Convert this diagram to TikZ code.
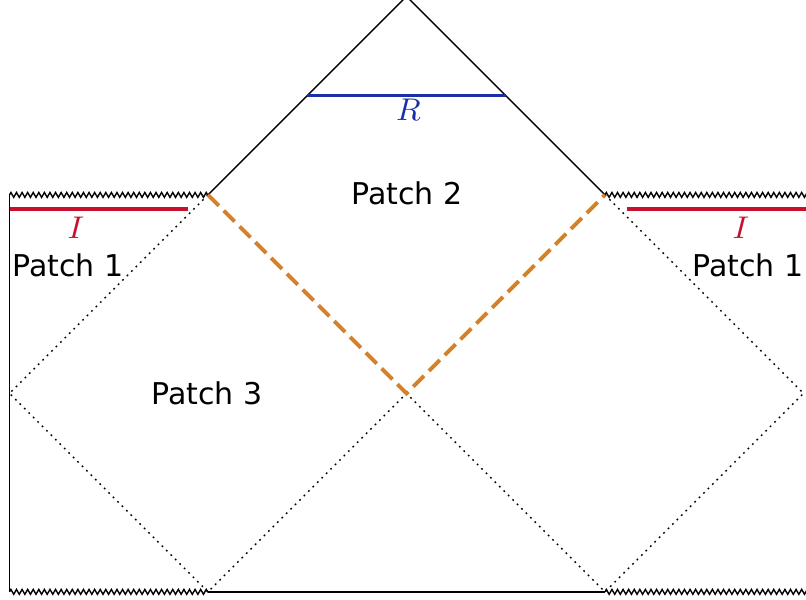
\documentclass[tikz,border=0pt]{standalone}
\usepackage{fontspec}
\setsansfont{DejaVu Sans}
\usetikzlibrary{decorations.pathmorphing}
\definecolor{icolor}{RGB}{200,16,46}
\definecolor{rcolor}{RGB}{26,48,170}
\definecolor{hcolor}{RGB}{214,128,40}
\begin{document}
\begin{tikzpicture}[x=2cm,y=2cm,line width=0.4pt,
  sing/.style={decorate,decoration={zigzag,segment length=1.6pt,amplitude=0.7pt}},
  horizon/.style={dash pattern=on 0.5pt off 1.3pt},
  patchlabel/.style={font=\sffamily\fontsize{8.6}{10}\selectfont},
  mathlabel/.style={font=\fontsize{8.6}{10}\selectfont}]
\useasboundingbox (-2.048,-1.040) rectangle (2.013,1.982);
\coordinate (top) at (0,2);
\coordinate (ul) at (-1,1);
\coordinate (ur) at (1,1);
\coordinate (c) at (0,0);
\coordinate (ml) at (-2,0);
\coordinate (mr) at (2,0);
\coordinate (bl) at (-1,-1);
\coordinate (br) at (1,-1);
\coordinate (cl) at (-2,1);
\coordinate (cr) at (2.03,1);
\coordinate (fl) at (-2,-1);
\coordinate (fr) at (2.03,-1);
% boundaries
\draw (ul)--(top)--(ur);
\draw (cl)--(fl);
\draw (bl)--(br);
\draw[sing] (cl)--(ul);
\draw[sing] (ur)--(cr);
\draw[sing] (fl)--(bl);
\draw[sing] (br)--(fr);
% horizons
\draw[horizon] (ul)--(ml)--(bl)--(c)--(br)--(mr)--(ur);
\draw[hcolor,line width=1.1pt,dash pattern=on 4.4pt off 2pt] (ul)--(c)--(ur);
% regions
\draw[rcolor,line width=0.9pt] (-0.5,1.5)--(0.5,1.5);
\draw[icolor,line width=0.9pt] (-2,0.929)--(-1.1,0.929);
\draw[icolor,line width=0.9pt] (1.11,0.929)--(2.03,0.929);
\node[mathlabel,rcolor] (R) at (0.01,1.428) {$R$};
\node[mathlabel,icolor] (Il) at (-1.665,0.834) {$I$};
\node[mathlabel,icolor] (Ir) at (1.685,0.834) {$I$};
\node[patchlabel] (p1l) at (-1.705,0.647) {Patch 1};
\node[patchlabel] (p1r) at (1.72,0.647) {Patch 1};
\node[patchlabel] (p2) at (0.003,1.01) {Patch 2};
\node[patchlabel] (p3) at (-1.005,0) {Patch 3};
\end{tikzpicture}
\end{document}
